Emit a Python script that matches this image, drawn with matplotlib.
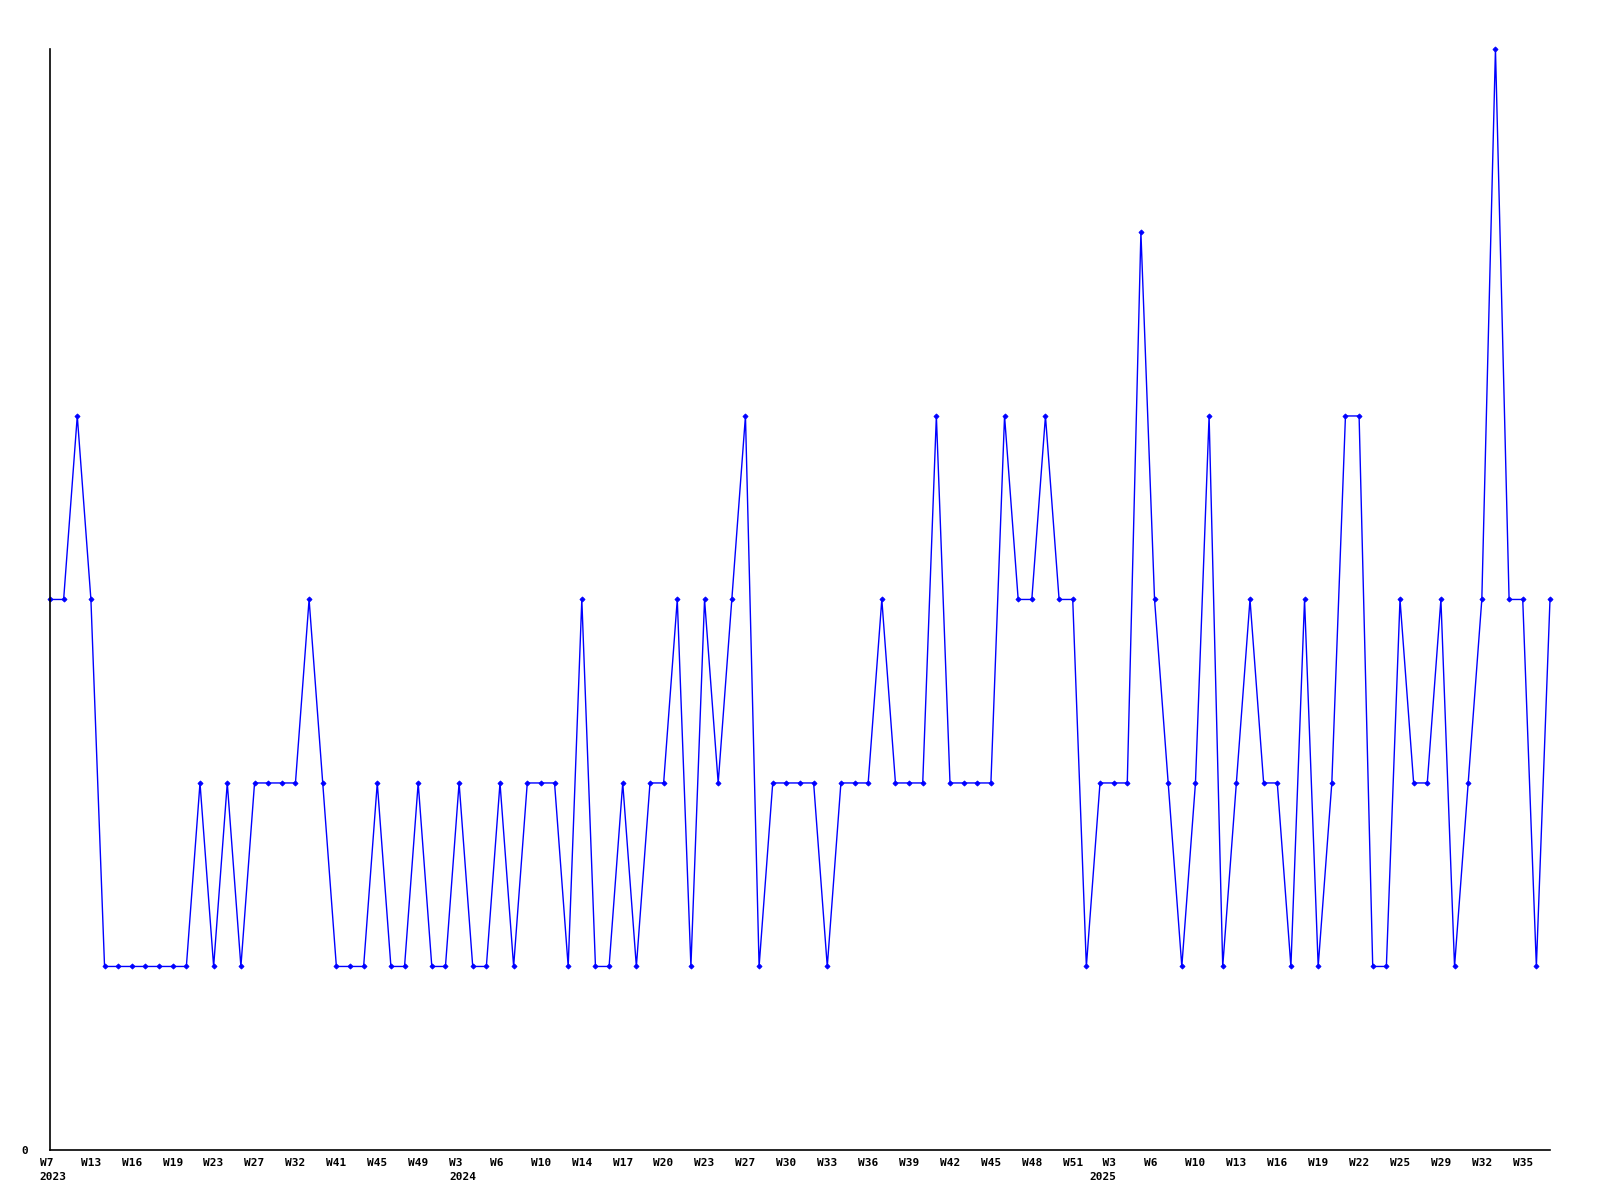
import matplotlib
matplotlib.use("Agg")
import matplotlib.pyplot as plt
import matplotlib.transforms as mtransforms

# weekly counts, one per data point (oldest first)
values = [
    3, 3, 4, 3, 1, 1, 1, 1, 1, 1, 1, 2, 1, 2, 1, 2, 2, 2, 2, 3,
    2, 1, 1, 1, 2, 1, 1, 2, 1, 1, 2, 1, 1, 2, 1, 2, 2, 2, 1, 3,
    1, 1, 2, 1, 2, 2, 3, 1, 3, 2, 3, 4, 1, 2, 2, 2, 2, 1, 2, 2,
    2, 3, 2, 2, 2, 4, 2, 2, 2, 2, 4, 3, 3, 4, 3, 3, 1, 2, 2, 2,
    5, 3, 2, 1, 2, 4, 1, 2, 3, 2, 2, 1, 3, 1, 2, 4, 4, 1, 1, 3,
    2, 2, 3, 1, 2, 3, 6, 3, 3, 1, 3,
]

# a label on every third point
tick_step = 3
tick_labels = [
    "W7\n2023", "W13", "W16", "W19", "W23", "W27", "W32", "W41", "W45", "W49",
    "W3\n2024", "W6", "W10", "W14", "W17", "W20", "W23", "W27", "W30", "W33",
    "W36", "W39", "W42", "W45", "W48", "W51",
    "  W3\n2025", "W6", "W10", "W13", "W16", "W19", "W22", "W25", "W29", "W32", "W35",
]

FONT = dict(family="DejaVu Sans Mono", weight="bold", size=8)

fig = plt.figure(figsize=(16, 12), dpi=100)
ax = fig.add_axes([0.03125, 0.0417, 0.9375, 0.9175])

x = list(range(len(values)))
ax.plot(x, values, color="#0000ff", linewidth=1.0, marker="D", markersize=2.6,
        markeredgewidth=0.6, clip_on=False)

ax.set_xlim(0, len(values) - 1)
ax.set_ylim(0, max(values))

for side in ("top", "right"):
    ax.spines[side].set_visible(False)
for side in ("left", "bottom"):
    ax.spines[side].set_linewidth(1.2)
    ax.spines[side].set_color("black")

ax.set_yticks([0])
ax.set_yticklabels(["0"], fontdict=FONT)
ax.tick_params(axis="y", length=0, pad=16)

ax.set_xticks(x[::tick_step][:len(tick_labels)])
ax.set_xticklabels(tick_labels, fontdict=FONT, ha="left", va="top", linespacing=1.45)
ax.tick_params(axis="x", length=0, pad=6)
for lbl in ax.get_xticklabels():
    dx = -10.2
    if lbl.get_text().startswith(" "):
        dx -= 14.5
    shift = mtransforms.ScaledTranslation(dx / 100, 0, fig.dpi_scale_trans)
    lbl.set_transform(lbl.get_transform() + shift)

fig.savefig("out.png", dpi=100)
